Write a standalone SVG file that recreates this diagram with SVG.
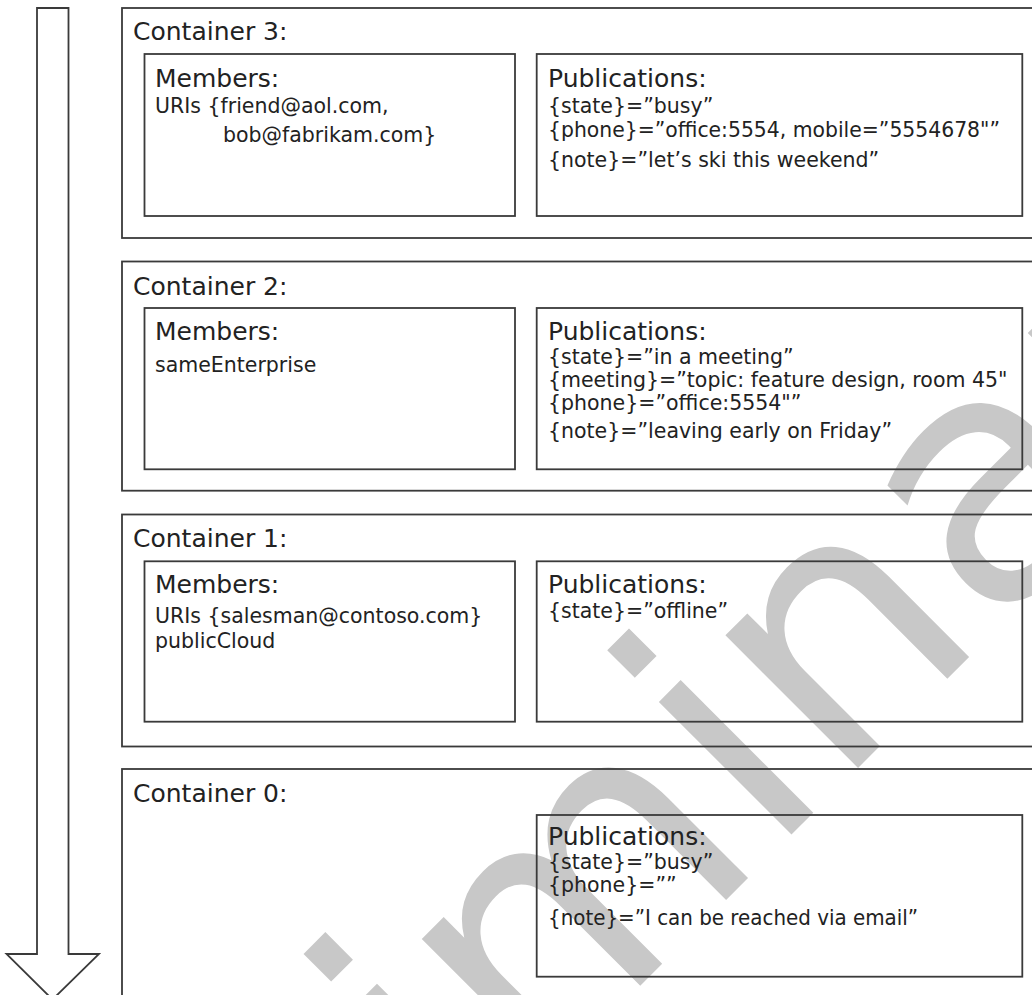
<svg xmlns="http://www.w3.org/2000/svg" width="1032" height="995" viewBox="0 0 1032 995">
<style>
.box{fill:none;stroke:#3a3a3a;stroke-width:1.8}
.hd{font-family:"DejaVu Sans",Verdana,sans-serif;font-size:25px;fill:#222}
.tx{font-family:"DejaVu Sans",Verdana,sans-serif;font-size:20.5px;fill:#222}
.wm{font-family:"DejaVu Sans",Verdana,sans-serif;font-size:343px;fill:#c8c8c8}
</style>
<rect width="1032" height="995" fill="#fff"/>
<g id="watermark">
<text class="wm" transform="translate(12,1614) rotate(-45)" x="0" y="0">Preliminary</text>
</g>
<g id="connectors">
<polygon points="37,8 68.5,8 68.5,954 99,954 52.5,999.5 6.5,954 37,954" fill="none" stroke="#3a3a3a" stroke-width="1.8" stroke-linejoin="miter"/>
</g>
<g id="container3">
<rect class="box" x="122" y="8" width="930" height="230"/>
<text class="hd" x="133" y="40">Container 3:</text>
</g>
<g id="members3">
<rect class="box" x="144.5" y="54" width="370.5" height="162"/>
<text class="hd" x="155" y="87">Members:</text>
<text class="tx" x="155" y="113">URIs {friend@aol.com,</text>
<text class="tx" x="223" y="142">bob@fabrikam.com}</text>
</g>
<g id="publications3">
<rect class="box" x="536.7" y="54" width="485.6" height="162"/>
<text class="hd" x="548" y="87">Publications:</text>
<text class="tx" x="548" y="113">{state}=”busy”</text>
<text class="tx" x="548" y="137" textLength="452" lengthAdjust="spacingAndGlyphs">{phone}=”office:5554, mobile=”5554678"”</text>
<text class="tx" x="548" y="167">{note}=”let’s ski this weekend”</text>
</g>
<g id="container2">
<rect class="box" x="122" y="261.5" width="930" height="229.2"/>
<text class="hd" x="133" y="295">Container 2:</text>
</g>
<g id="members2">
<rect class="box" x="144.5" y="308" width="370.5" height="161.3"/>
<text class="hd" x="155" y="340">Members:</text>
<text class="tx" x="155" y="372">sameEnterprise</text>
</g>
<g id="publications2">
<rect class="box" x="536.7" y="308" width="485.6" height="161.3"/>
<text class="hd" x="548" y="340">Publications:</text>
<text class="tx" x="548" y="364">{state}=”in a meeting”</text>
<text class="tx" x="548" y="387">{meeting}=”topic: feature design, room 45"</text>
<text class="tx" x="548" y="410">{phone}=”office:5554"”</text>
<text class="tx" x="548" y="438">{note}=”leaving early on Friday”</text>
</g>
<g id="container1">
<rect class="box" x="122" y="514.5" width="930" height="232"/>
<text class="hd" x="133" y="547">Container 1:</text>
</g>
<g id="members1">
<rect class="box" x="144.5" y="561.3" width="370.5" height="160.4"/>
<text class="hd" x="155" y="593">Members:</text>
<text class="tx" x="155" y="623">URIs {salesman@contoso.com}</text>
<text class="tx" x="155" y="648">publicCloud</text>
</g>
<g id="publications1">
<rect class="box" x="536.7" y="561.3" width="485.6" height="160.4"/>
<text class="hd" x="548" y="593">Publications:</text>
<text class="tx" x="548" y="618">{state}=”offline”</text>
</g>
<g id="container0">
<rect class="box" x="122" y="769" width="930" height="240"/>
<text class="hd" x="133" y="802">Container 0:</text>
</g>
<g id="publications0">
<rect class="box" x="536.7" y="815" width="485.6" height="161.7"/>
<text class="hd" x="548" y="845">Publications:</text>
<text class="tx" x="548" y="869">{state}=”busy”</text>
<text class="tx" x="548" y="892">{phone}=””</text>
<text class="tx" x="548" y="925" textLength="370" lengthAdjust="spacingAndGlyphs">{note}=”I can be reached via email”</text>
</g>
</svg>
